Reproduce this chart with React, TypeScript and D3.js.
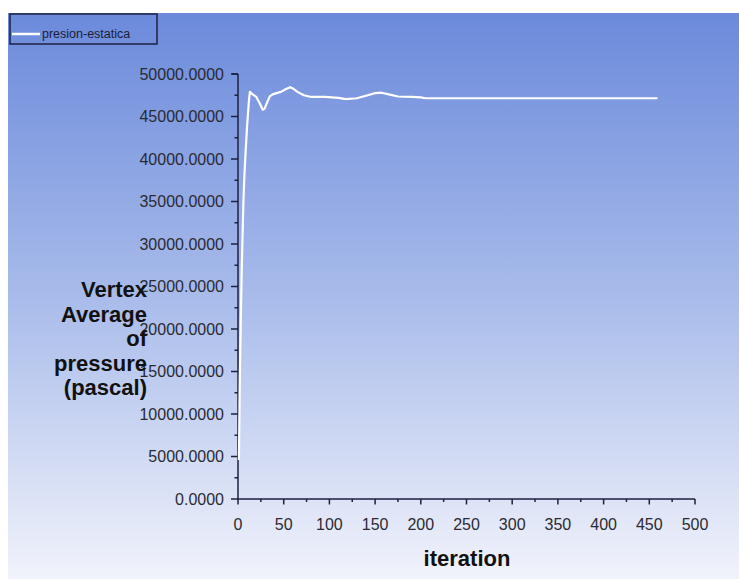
import React from "react";
import * as d3 from "d3";

const width = 739;
const height = 579;

// residual-style monitor: vertex average of static pressure per iteration
const iterations = [
  1, 2, 3, 4, 5, 6, 7, 8, 10, 12, 13, 16, 20, 24, 27, 29, 32, 35, 38, 42, 47,
  52, 57, 60, 65, 72, 80, 95, 110, 118, 130, 142, 150, 157, 165, 175, 190,
  200, 205, 250, 300, 350, 400, 459
];
const pressure = [
  4600, 14000, 20500, 26600, 31000, 35200, 38000, 40200, 44000, 46900, 47900,
  47600, 47300, 46500, 45800, 45900, 46700, 47400, 47600, 47750, 47900, 48200,
  48450, 48300, 47900, 47500, 47300, 47300, 47200, 47050, 47150, 47500, 47750,
  47800, 47600, 47350, 47300, 47250, 47150, 47150, 47150, 47150, 47150, 47150
];

const yMajor = [0, 5000, 10000, 15000, 20000, 25000, 30000, 35000, 40000, 45000, 50000];
const xMajor = [0, 50, 100, 150, 200, 250, 300, 350, 400, 450, 500];
const yTitle = ["Vertex", "Average", "of", "pressure", "(pascal)"];
const seriesName = "presion-estatica";

const x = d3.scaleLinear().domain([0, 500]).range([238, 695]);
const y = d3.scaleLinear().domain([0, 50000]).range([499, 74]);

const axisColor = "#1c2140";
const font = "'Liberation Sans', Arial, sans-serif";

export default function App() {
  const points = iterations.map((it, i) => [it, pressure[i]] as [number, number]);
  const line = d3
    .line<[number, number]>()
    .x((d) => x(d[0]))
    .y((d) => y(d[1]));

  const yMinor = d3.range(2500, 50000, 5000);
  const xMinor = d3.range(25, 500, 50);

  return (
    <svg
      width={width}
      height={height}
      style={{ position: "absolute", left: 0, top: 0 }}
      fontFamily={font}
    >
      <defs>
        <linearGradient id="bg" x1="0" y1="0" x2="0" y2="1">
          <stop offset="0%" stopColor="#6b8adb" />
          <stop offset="50%" stopColor="#a8bbea" />
          <stop offset="100%" stopColor="#f1f3fb" />
        </linearGradient>
      </defs>
      <rect x={0} y={0} width={width} height={height} fill="#ffffff" />
      <rect x={8} y={13} width={width - 8} height={height - 13} fill="url(#bg)" />

      {/* legend */}
      <rect x={10} y={14} width={147} height={30} fill="none" stroke={axisColor} strokeWidth={1.5} />
      <line x1={12} x2={40} y1={34} y2={34} stroke="#ffffff" strokeWidth={2.5} />
      <text x={42} y={38} fontSize={12.5} fill="#1a1d38">
        {seriesName}
      </text>

      {/* y axis */}
      <line x1={x(0)} x2={x(0)} y1={y(0)} y2={y(50000)} stroke={axisColor} strokeWidth={1.5} />
      <line x1={x(0)} x2={x(0) - 6} y1={y(50000)} y2={y(50000)} stroke={axisColor} strokeWidth={1.5} />
      {yMajor.map((v) => (
        <g key={"ym" + v}>
          <line x1={x(0) - 7} x2={x(0)} y1={y(v)} y2={y(v)} stroke={axisColor} strokeWidth={1.5} />
          <text x={224} y={y(v)} dy="0.35em" textAnchor="end" fontSize={16} fill="#2a2a33">
            {v.toFixed(4)}
          </text>
        </g>
      ))}
      {yMinor.map((v) => (
        <line key={"yn" + v} x1={x(0) - 3.5} x2={x(0)} y1={y(v)} y2={y(v)} stroke={axisColor} strokeWidth={1.5} />
      ))}

      {/* x axis */}
      <line x1={x(0)} x2={x(500)} y1={y(0)} y2={y(0)} stroke={axisColor} strokeWidth={1.5} />
      {xMajor.map((v) => (
        <g key={"xm" + v}>
          <line x1={x(v)} x2={x(v)} y1={y(0)} y2={y(0) + 5.5} stroke={axisColor} strokeWidth={1.5} />
          <text x={x(v)} y={530} textAnchor="middle" fontSize={16} fill="#2a2a33">
            {v}
          </text>
        </g>
      ))}
      {xMinor.map((v) => (
        <line key={"xn" + v} x1={x(v)} x2={x(v)} y1={y(0)} y2={y(0) + 3} stroke={axisColor} strokeWidth={1.5} />
      ))}

      {/* titles */}
      <text x={467} y={566} textAnchor="middle" fontSize={22} fontWeight="bold" fill="#111">
        iteration
      </text>
      {yTitle.map((t, i) => (
        <text key={t} x={147} y={297 + i * 24.5} textAnchor="end" fontSize={22} fontWeight="bold" fill="#111">
          {t}
        </text>
      ))}

      <path d={line(points) || ""} fill="none" stroke="#ffffff" strokeWidth={2.2} strokeLinejoin="round" />
    </svg>
  );
}
